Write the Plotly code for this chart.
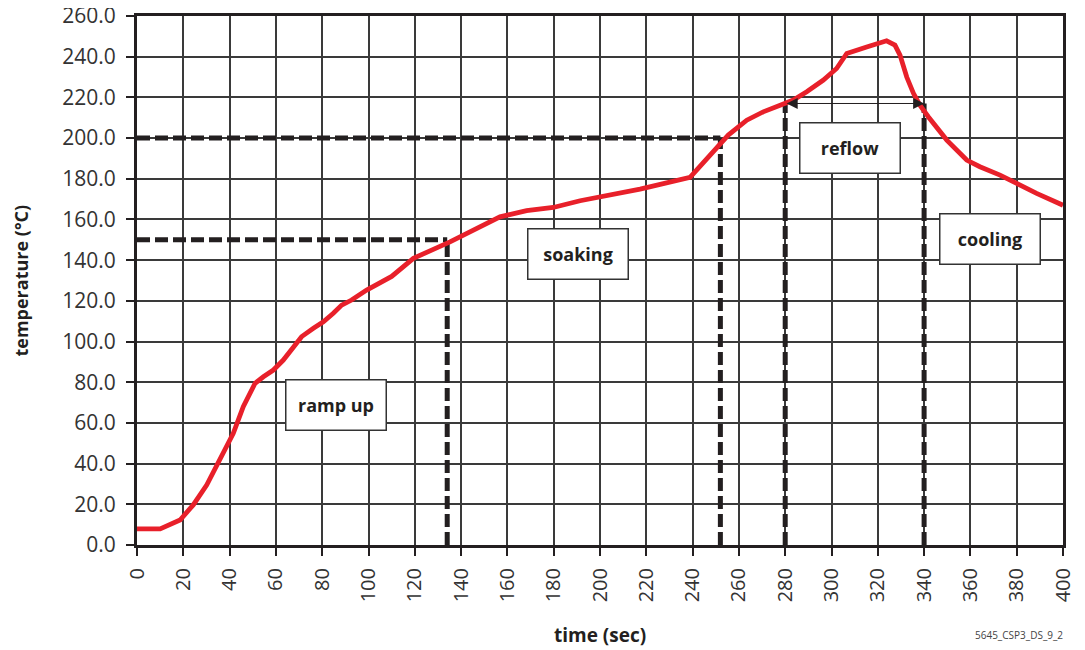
import plotly.graph_objects as go

# ---- data ----
time_s = [0, 10, 18.6, 24.3, 30.1, 35.9, 41.6, 45.9, 51, 54.6, 58.9, 63.2, 67.5, 71.1,
          76.2, 80.5, 84.8, 88.4, 92.7, 99.2, 110, 119.4, 135.2, 156.8, 168.3, 179.8,
          191.4, 200, 217.3, 238.9, 243.2, 249, 255.4, 263.4, 270.5, 279.2, 283.5,
          289.3, 296.5, 302.2, 306.6, 315.2, 321, 323.8, 327.4, 329.6, 332.5, 335.4,
          338.2, 341.8, 349.8, 358.4, 364.1, 372.8, 380, 388.6, 400]
temp_c = [7.9, 7.9, 12.3, 19.7, 29.5, 41.8, 54.9, 68, 79.5, 82.7, 86, 90.9, 97.4, 102.4,
          106.5, 109.7, 113.9, 117.9, 120.4, 125.3, 132, 140.9, 149, 161.3, 164.3, 165.9,
          169.2, 170.9, 174.9, 180.7, 185.9, 193.3, 201.5, 208.8, 212.9, 216.7, 218.7,
          222.8, 228.5, 234.2, 241.6, 244.8, 246.8, 247.8, 245.7, 240.8, 230, 222,
          216.2, 210.5, 199, 189.2, 185.9, 181.8, 177.7, 172.8, 167]

# phase markers
soak_time, soak_temp = 134, 150
reflow_time, reflow_temp = 252, 200
liquidus_start, liquidus_end, liquidus_temp = 280, 340, 217

# phase labels
phase_labels = ["ramp up", "soaking", "reflow", "cooling"]
phase_x = [85.8, 190.5, 308, 368.5]
phase_y = [69, 143.2, 195.1, 150.6]

x_ticks = list(range(0, 401, 20))
y_ticks = list(range(0, 261, 20))

RED = "#e8202a"
TXT = "#333333"
FONT = "Open Sans"

fig = go.Figure()
fig.add_trace(go.Scatter(x=time_s, y=temp_c, mode="lines",
                         line=dict(color=RED, width=4.8), hoverinfo="skip",
                         showlegend=False))

dash_style = dict(color="#231f20", width=5, dash="13px,5px")
def dline(x0, x1, y0, y1):
    return dict(type="line", xref="x", yref="y", x0=x0, x1=x1, y0=y0, y1=y1,
                line=dash_style, layer="between")

shapes = [
    dline(0, soak_time, soak_temp, soak_temp),
    dline(soak_time, soak_time, 0, soak_temp),
    dline(0, reflow_time, reflow_temp, reflow_temp),
    dline(reflow_time, reflow_time, 0, reflow_temp),
    dline(liquidus_start, liquidus_start, 0, liquidus_temp),
    dline(liquidus_end, liquidus_end, 0, liquidus_temp),
]

annotations = []
for txt, xx, yy in zip(phase_labels, phase_x, phase_y):
    annotations.append(dict(x=xx, y=yy, xref="x", yref="y", text="<b>%s</b>" % txt,
                            showarrow=False, width=99, height=49,
                            bgcolor="white", bordercolor="#333333", borderwidth=1.5,
                            borderpad=0, font=dict(family=FONT, size=18, color="#231f20")))
# double arrow across the reflow window
annotations.append(dict(x=liquidus_end, y=liquidus_temp, ax=liquidus_start, ay=liquidus_temp,
                        xref="x", yref="y", axref="x", ayref="y", text="", showarrow=True,
                        arrowhead=2, startarrowhead=2, arrowside="end+start",
                        arrowwidth=1, arrowsize=2.2, startarrowsize=2.2, arrowcolor="#231f20"))
# axis titles and footnote
annotations.append(dict(x=-0.1263, y=0.5, xref="paper", yref="paper", text="<b>temperature (°C)</b>",
                        textangle=-90, showarrow=False, xanchor="center", yanchor="middle",
                        font=dict(family=FONT, size=18, color="#231f20")))
annotations.append(dict(x=0.5, y=-0.170, xref="paper", yref="paper", text="<b>time (sec)</b>",
                        showarrow=False, xanchor="center", yanchor="middle",
                        font=dict(family=FONT, size=19, color="#231f20")))
annotations.append(dict(x=1.002, y=-0.170, xref="paper", yref="paper", text="5645_CSP3_DS_9_2",
                        xanchor="right", yanchor="middle", showarrow=False,
                        font=dict(family=FONT, size=10, color="#444444")))

# page body has an 8px default margin; size the figure so the plot area lands where the reference has it
fig.update_layout(
    width=1077, height=642,
    margin=dict(l=129, r=22, t=8, b=105),
    paper_bgcolor="white", plot_bgcolor="white",
    shapes=shapes, annotations=annotations,
    showlegend=False,
)
fig.update_xaxes(range=[0, 400], tickvals=x_ticks, tickangle=-90, automargin=False,
                 showgrid=True, gridcolor="#3a3a3a", gridwidth=1.5,
                 showline=True, linecolor="#231f20", linewidth=3, mirror=True,
                 ticks="outside", ticklen=8, tickcolor="#231f20", tickwidth=1.5,
                 ticklabelstandoff=4, ticklabeloverflow="allow",
                 tickfont=dict(family=FONT, size=20, color=TXT), zeroline=False)
fig.update_yaxes(range=[0, 260], tickvals=y_ticks, tickformat=".1f", automargin=False,
                 showgrid=True, gridcolor="#3a3a3a", gridwidth=1.5,
                 showline=True, linecolor="#231f20", linewidth=3, mirror=True,
                 ticks="outside", ticklen=8, tickcolor="#231f20", tickwidth=1.5,
                 ticklabelstandoff=6, ticklabeloverflow="allow",
                 tickfont=dict(family=FONT, size=21, color=TXT), zeroline=False)

fig.write_html("out.html")
